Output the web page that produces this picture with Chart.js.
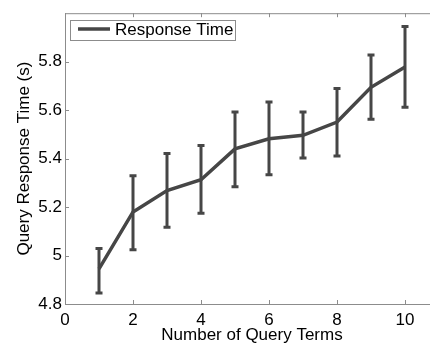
<!DOCTYPE html>
<html lang="en">
<head>
<meta charset="UTF-8">
<title>Query Response Time</title>
<style>
  html, body { margin: 0; padding: 0; overflow: hidden; background: #fff; }
  #wrap { width: 460px; height: 346px; }
</style>
</head>
<body>
<div id="wrap"><canvas id="chart" width="460" height="346"></canvas></div>
<script src="https://cdn.jsdelivr.net/npm/chart.js@4/dist/chart.umd.min.js"></script>
<script>
// values
const queryTerms = [1, 2, 3, 4, 5, 6, 7, 8, 9, 10];
const meanTime  = [4.945, 5.18, 5.268, 5.313, 5.44, 5.482, 5.496, 5.551, 5.694, 5.778];
const lowerTime = [4.845, 5.024, 5.117, 5.175, 5.284, 5.333, 5.402, 5.411, 5.562, 5.612];
const upperTime = [5.029, 5.329, 5.421, 5.454, 5.592, 5.634, 5.592, 5.689, 5.828, 5.945];
const xTicks = [0, 2, 4, 6, 8, 10];
const yTicks = [4.8, 5, 5.2, 5.4, 5.6, 5.8];

const lineColor = "#464646";
const axisColor = "#8c8c8c";
const fontFamily = "'Liberation Sans', Arial, Helvetica, sans-serif";

const errorBars = {
    id: "errorBars",
    beforeDatasetsDraw(chart) {
        const ctx = chart.ctx, xs = chart.scales.x, ys = chart.scales.y;
        ctx.save();
        ctx.strokeStyle = lineColor;
        ctx.lineWidth = 3;
        queryTerms.forEach((q, i) => {
            const px = xs.getPixelForValue(q);
            const top = ys.getPixelForValue(upperTime[i]);
            const bot = ys.getPixelForValue(lowerTime[i]);
            ctx.beginPath();
            ctx.moveTo(px, top); ctx.lineTo(px, bot);
            ctx.moveTo(px - 3.5, top); ctx.lineTo(px + 3.5, top);
            ctx.moveTo(px - 3.5, bot); ctx.lineTo(px + 3.5, bot);
            ctx.stroke();
        });
        ctx.restore();
    }
};

const frame = {
    id: "frame",
    afterDraw(chart) {
        const ctx = chart.ctx, a = chart.chartArea;
        const xs = chart.scales.x, ys = chart.scales.y;
        ctx.save();
        ctx.strokeStyle = axisColor;
        ctx.lineWidth = 1;
        ctx.beginPath();
        ctx.moveTo(a.left, a.top + 0.5); ctx.lineTo(a.right, a.top + 0.5);
        xTicks.forEach(t => {
            const px = Math.round(xs.getPixelForValue(t)) + 0.5;
            ctx.moveTo(px, a.bottom); ctx.lineTo(px, a.bottom - 4);
            ctx.moveTo(px, a.top); ctx.lineTo(px, a.top + 4);
        });
        yTicks.forEach(t => {
            const py = Math.round(ys.getPixelForValue(t)) + 0.5;
            ctx.moveTo(a.left, py); ctx.lineTo(a.left + 4, py);
        });
        ctx.stroke();

        // legend box
        ctx.fillStyle = "#fff";
        ctx.fillRect(70.5, 20.5, 165, 20);
        ctx.strokeRect(70.5, 20.5, 165, 20);
        ctx.strokeStyle = lineColor;
        ctx.lineWidth = 3.5;
        ctx.beginPath();
        ctx.moveTo(78, 29); ctx.lineTo(110, 29);
        ctx.stroke();
        ctx.fillStyle = "#000";
        ctx.font = "17px " + fontFamily;
        ctx.textBaseline = "middle";
        ctx.fillText(chart.data.datasets[0].label, 115, 30);
        ctx.restore();
    }
};

new Chart(document.getElementById("chart"), {
    type: "line",
    data: {
        datasets: [{
            label: "Response Time",
            data: queryTerms.map((q, i) => ({ x: q, y: meanTime[i] })),
            borderColor: lineColor,
            borderWidth: 3.5,
            pointRadius: 0,
            tension: 0,
            fill: false
        }]
    },
    options: {
        responsive: false,
        animation: false,
        devicePixelRatio: 1,
        layout: { padding: { top: 11, right: 21, left: 0, bottom: 0 } },
        plugins: { legend: { display: false }, tooltip: { enabled: false } },
        scales: {
            x: {
                type: "linear",
                min: 0, max: 11,
                afterFit: s => { s.height = 42; },
                afterBuildTicks: s => { s.ticks = xTicks.map(v => ({ value: v })); },
                grid: { display: false, drawTicks: false },
                border: { color: axisColor, width: 1 },
                ticks: { color: "#000", padding: 6, font: { family: fontFamily, size: 17 } },
                title: { display: true, text: "Number of Query Terms", color: "#000",
                         padding: { top: 0, bottom: 0 }, font: { family: fontFamily, size: 17 } }
            },
            y: {
                min: 4.8, max: 6,
                afterFit: s => { s.width = 65; },
                afterBuildTicks: s => { s.ticks = yTicks.map(v => ({ value: v })); },
                grid: { display: false, drawTicks: false },
                border: { color: axisColor, width: 1 },
                ticks: { color: "#000", padding: 3,
                         callback: v => String(Number(v.toFixed(1))),
                         font: { family: fontFamily, size: 17 } },
                title: { display: true, text: "Query Response Time (s)", color: "#000",
                         padding: { top: 14, bottom: 0 }, font: { family: fontFamily, size: 17 } }
            }
        }
    },
    plugins: [errorBars, frame]
});
</script>
</body>
</html>
